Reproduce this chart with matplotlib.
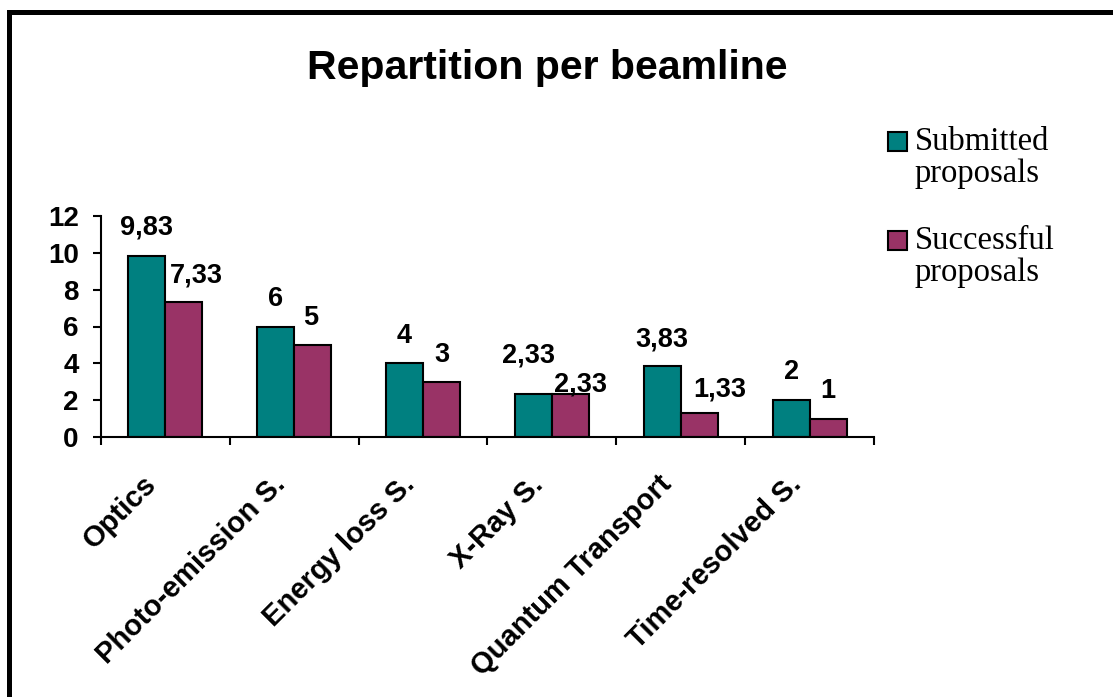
import matplotlib.pyplot as plt
from matplotlib.patches import Rectangle
from matplotlib.transforms import ScaledTranslation
import numpy as np

plt.rcParams['font.family'] = ['Liberation Sans', 'DejaVu Sans']

categories = ['Optics', 'Photo-emission S.', 'Energy loss S.', 'X-Ray S.',
              'Quantum Transport', 'Time-resolved S.']
submitted = [9.83, 6, 4, 2.33, 3.83, 2]
successful = [7.33, 5, 3, 2.33, 1.33, 1]
series_names = ['Submitted\nproposals', 'Successful\nproposals']
colors = ['#008080', '#993366']

# label nudges in pixels (dx, gap above bar top), like the original layout
sub_offsets = [(0, 21), (0, 20), (0, 20), (-5, 32), (0, 20), (0, 21)]
suc_offsets = [(12, 20), (-2, 20), (0, 20), (10, 3), (21, 16), (0, 21)]

W, H = 1113, 697
fig = plt.figure(figsize=(W / 100, H / 100), dpi=100)
ax = fig.add_axes([101 / W, 1 - 437 / H, 773 / W, 221 / H])

x = np.arange(len(categories))
w = 0.287
b1 = ax.bar(x - w / 2, submitted, w, color=colors[0], edgecolor='black',
            linewidth=1.5, label=series_names[0])
b2 = ax.bar(x + w / 2, successful, w, color=colors[1], edgecolor='black',
            linewidth=1.5, label=series_names[1])

px = 0.72  # points per pixel at dpi 100
for bars, vals, offs in [(b1, submitted, sub_offsets), (b2, successful, suc_offsets)]:
    for rect, v, (dx, dy) in zip(bars, vals, offs):
        txt = ('%g' % v).replace('.', ',')
        ax.annotate(txt, (rect.get_x() + rect.get_width() / 2, v),
                    xytext=(dx * px, dy * px), textcoords='offset points',
                    ha='center', va='baseline', fontsize=19.5, fontweight='bold')

ax.set_xlim(-0.5, len(categories) - 0.5)
ax.set_ylim(0, 12)
ax.set_yticks(range(0, 13, 2))
ax.set_yticklabels([str(t) for t in range(0, 13, 2)], fontsize=20, fontweight='bold')
ax.tick_params(axis='y', length=6, width=1.5, pad=10)

# category labels, rotated, right end just left of the category centre
ax.set_xticks([])
ax.set_xticks(np.arange(-0.5, len(categories)), minor=True)
ax.tick_params(axis='x', which='minor', length=6, width=1.5)
shift = ScaledTranslation(-23 / 100, -33 / 100, fig.dpi_scale_trans)
for xi, name in zip(x, categories):
    ax.text(xi, 0, name, transform=ax.get_xaxis_transform() + shift,
            rotation=45, rotation_mode='anchor', ha='right', va='top',
            fontsize=21, fontweight='bold')

for s in ['top', 'right']:
    ax.spines[s].set_visible(False)
for s in ['left', 'bottom']:
    ax.spines[s].set_linewidth(1.5)

fig.text(547 / W, 1 - 68 / H, 'Repartition per beamline', ha='center',
         va='center', fontsize=29.5, fontweight='bold')

# legend: square swatch beside the first line of each two-line label
for i, (name, c) in enumerate(zip(series_names, colors)):
    top = 132 + i * 99
    fig.patches.append(Rectangle((888 / W, 1 - (top + 19) / H), 19 / W, 19 / H,
                                 transform=fig.transFigure, facecolor=c,
                                 edgecolor='black', linewidth=1.5))
    # baseline of the last line
    fig.text(915 / W, 1 - (top + 50) / H, name, ha='left', va='baseline',
             family='Liberation Serif', fontsize=23.5, linespacing=1.05)

fig.patches.append(Rectangle((9.2 / W, -0.2), 1.5, 1.2 - 12.5 / H,
                             transform=fig.transFigure, fill=False,
                             edgecolor='black', linewidth=3.6))

fig.savefig('out.png', dpi=100)
